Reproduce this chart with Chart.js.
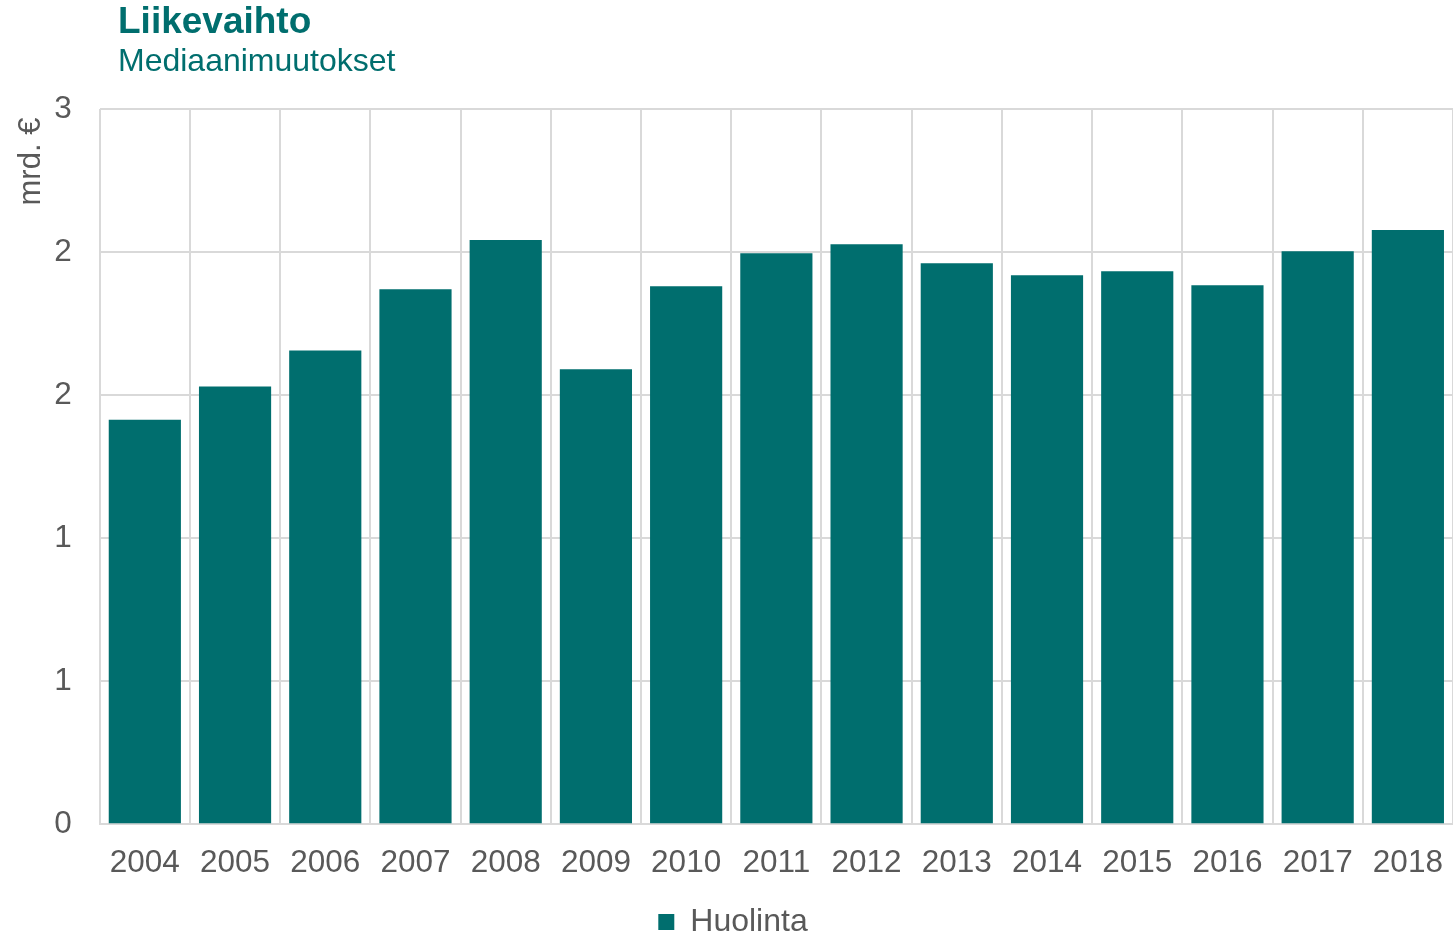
<!DOCTYPE html>
<html>
<head>
<meta charset="utf-8">
<script src="https://cdn.jsdelivr.net/npm/chart.js@4"></script>
<style>
    html, body { margin: 0; padding: 0; background: #fff; }
    #wrap { position: relative; width: 1453px; height: 936px; }
    #title { position: absolute; left: 118px; top: 0px; font: bold 37px "Liberation Sans", Arial, sans-serif; color: #006e6e; }
    #subtitle { position: absolute; left: 118px; top: 42px; font: 32px "Liberation Sans", Arial, sans-serif; color: #006e6e; }
    canvas { position: absolute; left: 0; top: 0; }
</style>
</head>
<body>
<div id="wrap">
    <canvas id="canvas" width="1453" height="936"></canvas>
    <div id="title">Liikevaihto</div>
    <div id="subtitle">Mediaanimuutokset</div>
</div>
<script>
const years = ['2004', '2005', '2006', '2007', '2008', '2009', '2010', '2011', '2012', '2013', '2014', '2015', '2016', '2017', '2018'];
const huolinta = [1.697, 1.836, 1.987, 2.244, 2.450, 1.908, 2.256, 2.395, 2.433, 2.353, 2.303, 2.319, 2.261, 2.403, 2.492];
const seriesName = 'Huolinta';
const yTitle = 'mrd. €';

const teal = '#006e6e';
const grey = '#595959';
const gridColor = '#d9d9d9';
const font = 'Liberation Sans';

const ctx = document.getElementById('canvas');
const chart = new Chart(ctx, {
    type: 'bar',
    data: {
        labels: years,
        datasets: [{
            label: seriesName,
            data: huolinta,
            backgroundColor: teal,
            barPercentage: 0.8,
            categoryPercentage: 1.0
        }]
    },
    options: {
        responsive: false,
        animation: false,
        layout: {
            padding: {top: 109, right: 0, left: 13, bottom: -12}
        },
        plugins: {
            legend: {
                position: 'bottom',
                labels: {
                    boxWidth: 16,
                    boxHeight: 16,
                    color: grey,
                    font: {family: font, size: 32},
                    padding: 4
                }
            },
            tooltip: {enabled: false}
        },
        scales: {
            x: {
                grid: {color: gridColor, lineWidth: 2, drawTicks: true, tickLength: 10, tickColor: 'rgba(0,0,0,0)'},
                border: {color: gridColor, width: 2},
                ticks: {color: grey, font: {family: font, size: 31.5}, padding: 10},
                afterFit: (scale) => { scale.height += 10; }
            },
            y: {
                min: 0,
                max: 3,
                grid: {color: gridColor, lineWidth: 2, drawTicks: false},
                border: {display: false},
                ticks: {
                    stepSize: 0.6,
                    color: grey,
                    font: {family: font, size: 31.5},
                    padding: 28,
                    callback: (value) => Math.round(value)
                },
                title: {
                    display: true,
                    text: yTitle + ' ',
                    align: 'end',
                    color: grey,
                    font: {family: font, size: 31},
                    padding: {top: 0, bottom: -24}
                }
            }
        }
    }
});
</script>
</body>
</html>
